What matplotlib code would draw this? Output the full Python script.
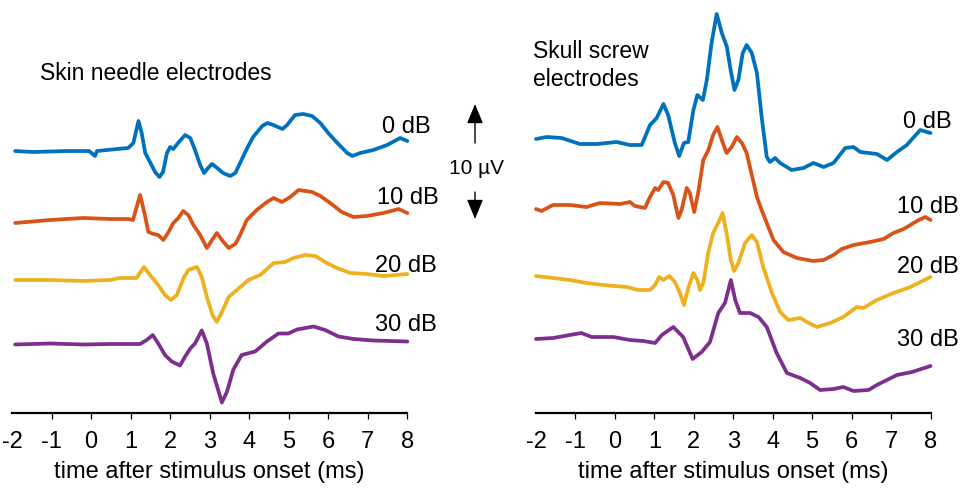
import matplotlib
matplotlib.use("Agg")
import matplotlib.pyplot as plt
import numpy as np

plt.rcParams['font.family'] = ['Liberation Sans', 'DejaVu Sans']

# ---------------- data (time in ms, amplitude in µV) ----------------
levels = ["0 dB", "10 dB", "20 dB", "30 dB"]
colors = ["#0072BD", "#D95319", "#EDB120", "#7E2F8E"]
xticks = list(range(-2, 9))

# Skin needle electrodes
skin_t0 = [-1.92,-1.47,-0.61,-0.05,0.10,0.15,0.66,0.94,1.07,1.20,1.28,1.37,1.49,1.62,1.73,1.82,
           1.92,2.00,2.08,2.20,2.38,2.51,2.63,2.76,2.86,2.96,3.06,3.19,3.34,3.52,3.65,3.77,3.95,4.10,
           4.33,4.46,4.61,4.84,4.96,5.16,5.37,5.59,5.80,6.00,6.23,6.48,6.61,6.81,7.14,7.49,7.82,8.00]
skin_v0 = [0.0,-0.1,0.0,0.0,-0.5,0.0,0.2,0.3,0.8,3.0,1.8,-0.2,-1.1,-2.1,-2.6,-2.1,
           -0.2,0.4,0.2,0.8,1.6,1.3,0.1,-1.4,-2.2,-1.7,-1.3,-1.7,-2.2,-2.5,-2.2,-1.2,0.3,1.4,
           2.5,2.8,2.6,2.2,2.6,3.6,3.7,3.5,2.8,1.8,0.8,-0.2,-0.5,-0.2,0.1,0.6,1.3,1.0]

skin_t10 = [-1.92,-1.04,-0.20,0.48,0.94,1.06,1.24,1.35,1.45,1.58,1.70,1.83,1.96,2.08,2.21,2.33,
            2.46,2.59,2.76,2.93,3.06,3.18,3.31,3.48,3.65,3.77,3.94,4.19,4.45,4.62,4.83,5.04,5.25,
            5.59,5.80,6.05,6.34,6.64,6.98,7.40,7.78,8.00]
skin_v10 = [-0.3,0.0,0.2,0.1,0.1,0.0,2.5,0.7,-1.2,-1.4,-1.5,-2.0,-1.2,-0.3,0.2,0.9,
            0.5,-0.5,-1.5,-2.8,-2.0,-1.3,-2.0,-2.8,-2.4,-1.5,0.0,1.0,1.8,2.2,1.8,2.3,3.0,
            2.8,2.4,1.7,0.8,0.3,0.4,0.7,1.1,0.7]

skin_t20 = [-1.92,-1.04,-0.20,0.48,0.73,1.15,1.34,1.49,1.66,1.87,2.02,2.17,2.34,2.46,2.68,2.80,
            2.93,3.07,3.18,3.31,3.48,3.69,3.98,4.28,4.62,4.91,5.12,5.42,5.67,5.92,6.22,6.56,
            6.98,7.40,8.00]
skin_v20 = [0.0,0.0,-0.1,0.0,0.2,0.2,1.3,0.5,-0.3,-1.5,-2.0,-1.5,0.2,1.0,1.3,0.3,
            -1.7,-3.5,-4.2,-3.2,-1.7,-1.0,0.0,0.5,1.7,1.8,2.2,2.5,2.4,1.8,1.2,0.7,
            0.6,0.4,0.6]

skin_t30 = [-1.92,-1.04,-0.20,0.48,1.24,1.41,1.56,1.70,1.87,2.04,2.25,2.38,2.51,2.63,2.80,2.93,
            3.09,3.31,3.44,3.60,3.81,4.15,4.45,4.74,4.99,5.21,5.63,5.92,6.26,6.64,7.14,8.00]
skin_v30 = [0.0,0.1,0.0,0.05,0.05,0.45,0.95,0.1,-1.05,-1.7,-2.1,-1.2,-0.4,0.1,1.4,0.1,
            -2.9,-5.8,-4.7,-2.5,-1.05,-0.7,0.3,1.1,1.1,1.5,1.8,1.45,0.8,0.55,0.4,0.3]

# Skull screw electrodes
skull_t0 = [-2.0,-1.73,-1.35,-0.89,-0.46,0.04,0.38,0.68,0.89,1.06,1.23,1.35,1.52,1.63,1.75,1.86,
            1.99,2.09,2.23,2.33,2.45,2.58,2.71,2.84,2.92,3.03,3.13,3.24,3.34,3.47,3.60,3.72,3.85,
            3.93,4.06,4.19,4.48,4.78,5.03,5.29,5.54,5.84,6.05,6.22,6.64,6.90,7.15,7.40,7.74,8.0]
skull_v0 = [0.2,0.4,0.3,-0.3,-0.3,-0.1,-0.4,-0.4,1.6,2.3,3.7,2.6,-0.2,-1.5,-0.2,-0.1,
            3.1,4.6,4.1,6.1,9.8,12.7,10.8,9.4,7.4,5.1,6.1,8.8,9.6,8.8,6.8,2.4,-1.6,
            -2.1,-1.7,-2.2,-2.9,-2.7,-2.2,-2.6,-2.2,-0.7,-0.6,-1.1,-1.3,-1.9,-1.1,-0.4,1.1,0.8]

skull_t10 = [-2.0,-1.86,-1.57,-1.14,-0.72,-0.38,0.13,0.38,0.51,0.76,0.89,1.02,1.10,1.23,1.35,1.48,
             1.61,1.69,1.82,1.90,2.01,2.11,2.24,2.37,2.49,2.60,2.71,2.83,2.96,3.09,3.22,3.34,3.47,
             3.60,3.72,3.85,4.02,4.27,4.61,5.03,5.29,5.54,5.75,6.05,6.47,6.81,7.06,7.32,7.70,7.87,8.0]
skull_v10 = [-0.3,-0.5,0.1,0.1,-0.1,0.3,0.2,0.4,0.0,-0.2,0.9,1.8,1.6,2.4,2.3,1.1,
             -1.2,-0.4,1.8,1.3,-0.6,1.3,4.6,5.6,7.1,7.9,6.6,5.3,5.9,6.9,6.3,5.3,3.1,
             0.9,-0.4,-1.7,-3.4,-4.6,-5.2,-5.5,-5.4,-4.9,-4.3,-3.9,-3.6,-3.3,-2.7,-2.3,-1.4,-1.1,-1.4]

skull_t20 = [-2.0,-1.57,-1.14,-0.72,-0.30,0.30,0.59,0.89,1.02,1.12,1.23,1.38,1.52,1.65,1.75,1.86,
             1.99,2.09,2.16,2.24,2.37,2.49,2.62,2.73,2.83,2.94,3.02,3.13,3.30,3.47,3.60,3.76,3.98,
             4.19,4.40,4.70,4.87,5.12,5.46,5.79,6.13,6.30,6.64,7.06,7.49,8.0]
skull_v20 = [0.4,0.2,0.0,-0.3,-0.5,-0.7,-1.0,-1.0,-0.5,0.3,0.0,0.4,-0.2,-1.3,-2.5,-0.8,
             0.7,0.0,-1.0,-0.3,2.8,4.7,5.7,6.7,4.7,2.0,0.9,1.7,3.7,4.5,3.8,1.3,-1.3,
             -3.2,-4.0,-3.8,-4.2,-4.7,-4.3,-3.7,-2.7,-2.8,-2.0,-1.3,-0.7,0.3]

skull_t30 = [-2.0,-1.57,-0.85,-0.59,-0.04,0.38,0.72,1.02,1.19,1.48,1.73,1.97,2.20,2.41,2.62,2.79,
             2.94,3.05,3.17,3.43,3.64,3.85,4.10,4.36,4.70,4.95,5.20,5.54,5.79,6.05,6.43,6.64,
             7.15,7.53,8.0]
skull_v30 = [-0.1,0.0,0.5,0.1,0.1,-0.2,-0.3,-0.5,0.3,1.1,0.1,-2.1,-1.4,-0.4,2.5,3.5,
             5.8,3.8,2.5,2.5,2.1,1.1,-1.5,-3.5,-4.0,-4.5,-5.2,-5.1,-4.9,-5.3,-5.2,-4.7,
             -3.7,-3.4,-2.8]

skin_traces = [(skin_t0, skin_v0), (skin_t10, skin_v10), (skin_t20, skin_v20), (skin_t30, skin_v30)]
skull_traces = [(skull_t0, skull_v0), (skull_t10, skull_v10), (skull_t20, skull_v20), (skull_t30, skull_v30)]

# ---------------- layout ----------------
W, H = 963, 491
fig = plt.figure(figsize=(W / 100, H / 100), dpi=100)

def fx(px):
    return px / W

def fy(py):
    return 1 - py / H

axis_y = 413
ax_h = axis_y / H
axL = fig.add_axes([fx(12), fy(axis_y), 395.3 / W, ax_h])
axR = fig.add_axes([fx(536), fy(axis_y), 394.5 / W, ax_h])

skin_offsets = [26.2, 19.3, 13.3, 6.85]
skull_offsets = [27.2, 20.7, 13.3, 7.5]

FS = 17
for ax, traces, offs in [(axL, skin_traces, skin_offsets), (axR, skull_traces, skull_offsets)]:
    for (t, v), off, c in zip(traces, offs, colors):
        ax.plot(t, np.asarray(v) + off, color=c, lw=2.7, solid_joinstyle='round',
                solid_capstyle='round', clip_on=False)
    ax.set_xlim(-2, 8)
    ax.set_ylim(0, axis_y / 10)
    for s in ['top', 'right', 'left']:
        ax.spines[s].set_visible(False)
    ax.spines['bottom'].set_linewidth(1.6)
    ax.set_yticks([])
    ax.set_xticks(xticks)
    ax.set_xticklabels([str(x) for x in xticks], fontsize=FS)
    ax.tick_params(axis='x', direction='out', length=4, width=0.9, pad=9)
    ax.xaxis.get_major_ticks()[0].tick1line.set_visible(False)
    ax.set_xlabel("time after stimulus onset (ms)", fontsize=FS, labelpad=6)
    ax.patch.set_visible(False)

# panel titles
fig.text(fx(40), fy(73), "Skin needle electrodes", fontsize=16.5, ha='left', va='center')
fig.text(fx(533), fy(52), "Skull screw", fontsize=16.5, ha='left', va='center')
fig.text(fx(533), fy(79), "electrodes", fontsize=16.5, ha='left', va='center')

# level labels
skin_lab_pos = [(382, 127), (377, 198), (375, 266), (375, 325)]
skull_lab_pos = [(903, 122), (897, 207), (897, 267), (897, 340)]
for lab, (x, y) in zip(levels, skin_lab_pos):
    fig.text(fx(x), fy(y), lab, fontsize=FS, ha='left', va='center')
for lab, (x, y) in zip(levels, skull_lab_pos):
    fig.text(fx(x), fy(y), lab, fontsize=FS, ha='left', va='center')

# scale bar arrows
arr = dict(arrowstyle='-|>,head_length=0.8,head_width=0.33', color='black', lw=1.0,
           mutation_scale=15, shrinkA=0, shrinkB=0)
fig.add_artist(matplotlib.patches.FancyArrowPatch((fx(475), fy(143)), (fx(475), fy(104)),
                                                  transform=fig.transFigure, **arr))
fig.add_artist(matplotlib.patches.FancyArrowPatch((fx(475), fy(192)), (fx(475), fy(219)),
                                                  transform=fig.transFigure, **arr))
fig.text(fx(476), fy(168), "10 µV", fontsize=15, ha='center', va='center')

fig.savefig("out.png", dpi=100)
